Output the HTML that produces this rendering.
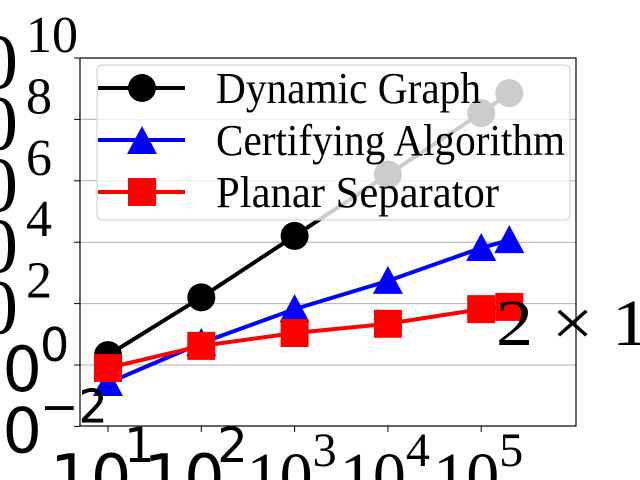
<!DOCTYPE html>
<html><head><meta charset="utf-8"><style>
html,body{margin:0;padding:0;background:#fff;overflow:hidden;width:640px;height:480px;}
svg{display:block;}
text{font-family:"Liberation Serif",serif;}
.sans{font-family:"DejaVu Sans","Liberation Sans",sans-serif;}
</style></head><body>
<svg id="chart" width="640" height="480" viewBox="0 0 640 480" xmlns="http://www.w3.org/2000/svg">
<g id="grid"></g>
<g id="series"></g>
<rect x="80" y="58" width="496" height="368" fill="none" stroke="#000" stroke-width="1.2"/>
<g id="ticks"></g>
<g id="legend">
<rect x="97" y="65" width="473" height="155" rx="5" fill="#fff" fill-opacity="0.8" stroke="#ccc" stroke-width="1"/>
<g>
<line x1="98" y1="88" x2="185" y2="88" stroke="#000" stroke-width="4"/>
<circle cx="142" cy="88" r="14" fill="#000"/>
<text x="216" y="103" font-size="44" textLength="265" lengthAdjust="spacingAndGlyphs">Dynamic Graph</text>
</g>
<g>
<line x1="98" y1="140" x2="185" y2="140" stroke="#00f" stroke-width="4"/>
<polygon points="142,126 157,154 127,154" fill="#00f"/>
<text x="216" y="155" font-size="44" textLength="349" lengthAdjust="spacingAndGlyphs">Certifying Algorithm</text>
</g>
<g>
<line x1="98" y1="192" x2="185" y2="192" stroke="#f00" stroke-width="4"/>
<rect x="128" y="178" width="28" height="28" fill="#f00"/>
<text x="216" y="207" font-size="44" textLength="283" lengthAdjust="spacingAndGlyphs">Planar Separator</text>
</g>
</g>
<text x="496" y="345" font-size="66" textLength="190" lengthAdjust="spacingAndGlyphs">2 × 10</text>
</svg>
<script>
const xValues = [10, 100, 1000, 10000, 100000, 200000];
const dynamicValues = [2.1, 160, 16000, 1.6e6, 1.6e8, 7.2e8];
const certifyingValues = [0.26, 5.2, 66, 550, 6500, 11700];
const planarValues = [0.8, 4.2, 11, 22, 66, 78];
const yTickExps = [10, 8, 6, 4, 2, 0, -2];
const xTickExps = [1, 2, 3, 4, 5];
const NS = "http://www.w3.org/2000/svg";
function X(v){return 108 + (Math.log10(v) - 1) * 93.3;}
function Y(v){return 365 - Math.log10(v) * 30.7;}
function mk(tag, attrs, parent){const e=document.createElementNS(NS,tag);for(const k in attrs)e.setAttribute(k,attrs[k]);parent.appendChild(e);return e;}
const grid=document.getElementById('grid'), ticks=document.getElementById('ticks'), series=document.getElementById('series');
yTickExps.forEach(p=>{
  const y=Y(Math.pow(10,p));
  if(p<10&&p>-2){const g=mk('line',{x1:80,x2:576,y1:y,y2:y,stroke:'#b0b0b0','stroke-width':1},grid);
  
  }
  const t=mk('line',{x1:74,x2:80,y1:y,y2:y,stroke:'#000','stroke-width':1},ticks);
  
  
  const big=(p===0||p===-2);
  const lab=mk('text',{x:big?-37:-60,y:y+(big?26:30),'font-size':big?62:78},ticks);
  
  
  if(big)lab.setAttribute('class','sans');
  lab.textContent='10';
  const sup=mk('text',{x:big?40:26,y:y-(big?4:6),'font-size':big?46:52},ticks);
  
  
  if(big)sup.setAttribute('class','sans');
  sup.textContent=p<0?'\u2212'+(-p):String(p);
});
xTickExps.forEach(p=>{
  const x=X(Math.pow(10,p));
  const t=mk('line',{x1:x,x2:x,y1:426,y2:432,stroke:'#000','stroke-width':1},ticks);
  
  
  const big=p<=2;
  const lab=mk('text',{x:x-(big?58:48),y:big?500:498,'font-size':big?64:66},ticks);
  
  
  if(big)lab.setAttribute('class','sans');
  lab.textContent='10';
  const sup=mk('text',{x:x+(big?16:18),y:big?462:466,'font-size':big?48:48},ticks);
  
  
  if(big)sup.setAttribute('class','sans');
  sup.textContent=String(p);
});
function drawSeries(vals,color,shape,name){
  const g=mk('g',{},series);
  
  
  const pts=xValues.map((x,i)=>X(x)+','+Y(vals[i])).join(' ');
  const l=mk('polyline',{points:pts,fill:'none',stroke:color,'stroke-width':4},g);
  
  
  xValues.forEach((x,i)=>{
    const cx=X(x), cy=Y(vals[i]); let m;
    if(shape==='circle') m=mk('circle',{cx:cx,cy:cy,r:14,fill:color},g);
    else if(shape==='tri') m=mk('polygon',{points:`${cx},${cy-15} ${cx+15},${cy+13} ${cx-15},${cy+13}`,fill:color},g);
    else m=mk('rect',{x:cx-14,y:cy-14,width:28,height:28,fill:color},g);
    
    
  });
}
drawSeries(dynamicValues,'#000','circle','dynamic-graph-series');
drawSeries(certifyingValues,'#00f','tri','certifying-algorithm-series');
drawSeries(planarValues,'#f00','square','planar-separator-series');
</script>
</body></html>
